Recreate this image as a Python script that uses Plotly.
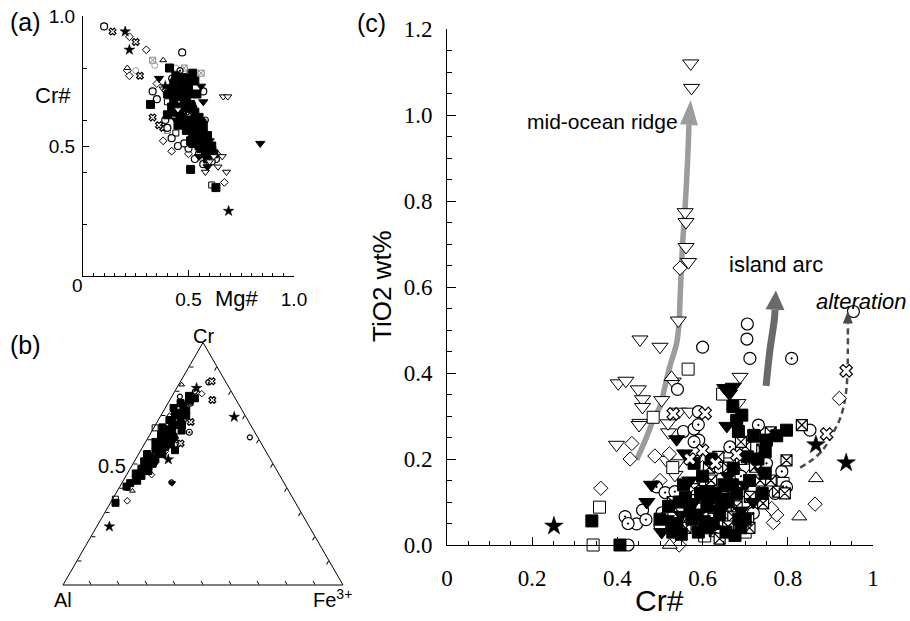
import math
import plotly.graph_objects as go

W, H = 910, 621

# ---------------- panel (a): Mg# vs Cr# ----------------
A_FILLED_SQUARE = [(0.41,0.80),(0.44,0.77),(0.52,0.78),(0.53,0.75),(0.43,0.74),(0.47,0.72),(0.40,0.70),(0.45,0.69),
                   (0.50,0.70),(0.48,0.66),(0.42,0.65),(0.52,0.64),(0.46,0.62),(0.50,0.60),(0.55,0.61),(0.53,0.57),
                   (0.49,0.56),(0.57,0.55),(0.54,0.53),(0.58,0.51),(0.56,0.49),(0.60,0.48),(0.62,0.47),(0.59,0.45),
                   (0.32,0.66),(0.40,0.62),(0.51,0.41),(0.63,0.34),(0.45,0.58),(0.51,0.52),(0.47,0.75),(0.44,0.71),
                   (0.49,0.68),(0.46,0.65),(0.51,0.66),(0.47,0.61),(0.53,0.63),(0.50,0.57),(0.55,0.56),(0.52,0.51),
                   (0.57,0.58),(0.59,0.54),(0.61,0.50),(0.42,0.72),(0.49,0.76),(0.54,0.70),(0.44,0.63),(0.56,0.59),
                   (0.54,0.58),(0.56,0.53),(0.52,0.55),(0.48,0.59),(0.43,0.68),(0.58,0.47),(0.55,0.50),(0.50,0.73),
                   (0.45,0.76),(0.57,0.52),(0.53,0.60),(0.48,0.70)]
A_FILLED_TRI = [(0.36,0.76),(0.56,0.73),(0.57,0.67),(0.59,0.42),(0.84,0.51),(0.47,0.68),(0.52,0.58),(0.60,0.52),
                (0.44,0.60),(0.55,0.46),(0.49,0.64),(0.58,0.49)]
A_OPEN_CIRCLE = [(0.10,0.96),(0.47,0.86),(0.33,0.71),(0.57,0.71),(0.63,0.45),(0.57,0.43),(0.40,0.57),(0.42,0.53),
                 (0.45,0.50),(0.50,0.49),(0.39,0.60),(0.61,0.44),(0.35,0.68),(0.48,0.51),(0.55,0.47),(0.53,0.45)]
A_GRAY_CIRCLE = [(0.34,0.81),(0.25,0.79),(0.62,0.49),(0.57,0.44),(0.44,0.80)]
A_OPEN_DIAMOND = [(0.22,0.92),(0.30,0.87),(0.21,0.79),(0.22,0.77),(0.67,0.36),(0.42,0.48),(0.50,0.47),(0.38,0.52),(0.35,0.74)]
A_OPEN_TRI_DOWN = [(0.665,0.69),(0.686,0.69),(0.68,0.40),(0.62,0.46),(0.66,0.46),(0.58,0.40),(0.64,0.42),(0.60,0.44),
                   (0.45,0.64),(0.38,0.72)]
A_OPEN_TRI_UP = [(0.38,0.83),(0.21,0.80),(0.64,0.47)]
A_STAR = [(0.20,0.94),(0.22,0.87),(0.69,0.25),(0.39,0.73)]
A_CROSS = [(0.14,0.94),(0.25,0.90),(0.27,0.77),(0.33,0.61),(0.38,0.57),(0.36,0.58)]
A_GRAY_BOXED = [(0.33,0.83),(0.56,0.78),(0.48,0.80),(0.50,0.74),(0.40,0.56)]
A_OPEN_SQUARE = [(0.61,0.35),(0.40,0.67),(0.48,0.79),(0.44,0.55)]
A_CIRCLE_DOT = [(0.46,0.79),(0.42,0.76),(0.52,0.66),(0.55,0.55),(0.49,0.63),(0.58,0.60)]

# ---------------- panel (b): ternary Cr - Al - Fe3+  (Cr, Fe3+) fractions ----------------
B_FILLED_SQUARE = [(0.637,0.105),(0.556,0.122),(0.339,0.018),(0.406,0.024),(0.770,0.086),(0.740,0.060),(0.700,0.050),
                   (0.660,0.070),(0.620,0.040),(0.580,0.060),(0.540,0.030),(0.500,0.050),(0.460,0.030),(0.720,0.080),
                   (0.640,0.060),(0.600,0.070),(0.560,0.050),(0.520,0.070),(0.480,0.040),(0.440,0.040),(0.680,0.040),
                   (0.730,0.030),(0.690,0.075),(0.610,0.090),(0.570,0.080),(0.530,0.045),(0.490,0.060),(0.650,0.030),
                   (0.750,0.045),(0.590,0.035),(0.470,0.070),(0.420,0.030),(0.710,0.065),(0.670,0.055),(0.630,0.075),
                   (0.550,0.065),(0.510,0.035),(0.450,0.055),(0.760,0.070),(0.600,0.050),(0.700,0.090),(0.660,0.095),
                   (0.620,0.060),(0.580,0.095),(0.540,0.085),(0.500,0.070),(0.430,0.050),(0.780,0.060)]
B_FILLED_TRI = [(0.466,0.052),(0.420,0.180),(0.500,0.080),(0.570,0.090),(0.650,0.050)]
B_OPEN_TRI_UP = [(0.826,0.011),(0.388,0.054),(0.700,0.030)]
B_STAR = [(0.812,0.071),(0.693,0.265),(0.518,0.117),(0.241,0.045)]
B_OPEN_CIRCLE = [(0.798,0.072),(0.836,0.101),(0.609,0.363),(0.777,0.029),(0.423,0.176),(0.450,0.035),(0.400,0.030)]
B_OPEN_DIAMOND = [(0.789,0.101),(0.455,0.089),(0.347,0.056),(0.550,0.090)]
B_CROSS = [(0.840,0.111),(0.763,0.152),(0.672,0.120),(0.584,0.128),(0.600,0.100)]
B_CIRCLE_DOT = [(0.630,0.136),(0.750,0.080),(0.680,0.090)]
B_OPEN_SQUARE = [(0.354,0.010),(0.648,0.005)]

# ---------------- panel (c): Cr# vs TiO2 wt% ----------------
C_OPEN_TRI_DOWN = [(0.572,1.12),(0.574,1.063),(0.559,0.774),(0.561,0.751),(0.561,0.693),(0.567,0.658),(0.543,0.522),
                   (0.453,0.478),(0.500,0.461),(0.402,0.376),(0.420,0.382),(0.449,0.362),(0.459,0.339),(0.459,0.321),
                   (0.453,0.284),(0.504,0.337),(0.398,0.233),(0.531,0.380),(0.688,0.391),(0.545,0.310),(0.569,0.310),
                   (0.520,0.262),(0.514,0.198),(0.535,0.163),(0.540,0.190),(0.683,0.330),(0.519,0.283),(0.451,0.279),
                   (0.580,0.200),(0.620,0.160),(0.700,0.180),(0.660,0.070)]
C_FILLED_TRI_DOWN = [(0.652,0.365),(0.672,0.368),(0.663,0.352),(0.657,0.277),(0.539,0.246),(0.558,0.213),(0.480,0.140),
                     (0.469,0.100),(0.504,0.030),(0.648,0.113),(0.719,0.100),(0.600,0.060),(0.620,0.040),(0.580,0.100),
                     (0.550,0.070),(0.660,0.160),(0.700,0.140),(0.740,0.170),(0.530,0.045),(0.690,0.080),(0.610,0.130),
                     (0.570,0.150),(0.515,0.060),(0.590,0.075),(0.635,0.085)]
C_FILLED_SQUARE = [(0.671,0.322),(0.692,0.302),(0.684,0.264),(0.680,0.290),(0.797,0.267),(0.672,0.178),(0.676,0.022),
                   (0.340,0.056),(0.406,0.000),(0.747,0.217),(0.750,0.244),(0.747,0.167),(0.555,0.140),(0.774,0.254),
                   (0.600,0.160),(0.630,0.120),(0.520,0.090),(0.540,0.050),(0.570,0.080),(0.590,0.030),(0.610,0.090),
                   (0.640,0.070),(0.660,0.100),(0.680,0.120),(0.710,0.150),(0.730,0.200),(0.740,0.120),(0.620,0.200),
                   (0.560,0.110),(0.500,0.060),(0.650,0.140),(0.700,0.060),(0.720,0.255),(0.690,0.040),(0.580,0.190),
                   (0.530,0.030),(0.625,0.050),(0.705,0.205),(0.595,0.120),(0.655,0.030),(0.575,0.060),(0.605,0.040),
                   (0.645,0.095),(0.670,0.140),(0.550,0.025),(0.615,0.110),(0.685,0.060),(0.545,0.100)]
C_BOXED_X = [(0.833,0.279),(0.797,0.197),(0.637,0.205),(0.723,0.252),(0.760,0.262),(0.629,0.032),(0.633,0.096),
             (0.777,0.124),(0.793,0.120),(0.707,0.062),(0.723,0.182),(0.649,0.112),(0.672,0.066),(0.660,0.043),
             (0.711,0.112),(0.742,0.097),(0.700,0.230),(0.740,0.222),(0.620,0.150),(0.660,0.180),(0.690,0.200),
             (0.580,0.130),(0.600,0.070),(0.560,0.040),(0.640,0.015),(0.680,0.090),(0.760,0.150),(0.710,0.040),
             (0.600,0.110),(0.530,0.100),(0.690,0.240),(0.735,0.150),(0.615,0.180)]
C_CIRCLE_DOT = [(0.809,0.434),(0.591,0.244),(0.418,0.066),(0.425,0.050),(0.467,0.059),(0.492,0.135),(0.512,0.122),
                (0.535,0.124),(0.561,0.122),(0.786,0.171),(0.797,0.135),(0.731,0.279),(0.664,0.228),(0.719,0.074),
                (0.580,0.240),(0.550,0.090),(0.620,0.100),(0.690,0.160),(0.650,0.050),(0.750,0.190),(0.570,0.050),
                (0.700,0.100),(0.505,0.075),(0.590,0.280),(0.640,0.180)]
C_OPEN_CIRCLE = [(0.705,0.514),(0.704,0.479),(0.711,0.434),(0.600,0.460),(0.541,0.362),(0.954,0.543),(0.852,0.267),
                 (0.555,0.264),(0.459,0.081),(0.445,0.049),(0.758,0.140),(0.580,0.270),(0.530,0.120),(0.620,0.060),
                 (0.500,0.045),(0.720,0.130),(0.770,0.120),(0.425,0.000),(0.590,0.310)]
C_OPEN_DIAMOND = [(0.547,0.644),(0.434,0.236),(0.430,0.200),(0.361,0.132),(0.488,0.207),(0.522,0.212),(0.921,0.341),
                  (0.864,0.095),(0.766,0.052),(0.774,0.070),(0.762,0.085),(0.545,0.000),(0.500,0.150),(0.600,0.180),
                  (0.690,0.050)]
C_OPEN_SQUARE = [(0.566,0.409),(0.484,0.297),(0.358,0.088),(0.343,0.000),(0.647,0.351),(0.605,0.021),(0.789,0.143),
                 (0.530,0.180),(0.700,0.030)]
C_OPEN_TRI_UP = [(0.866,0.155),(0.827,0.066),(0.523,0.000),(0.527,0.390),(0.600,0.140),(0.660,0.210)]
C_STAR = [(0.251,0.044),(0.866,0.233),(0.937,0.191)]
C_CROSS = [(0.937,0.405),(0.891,0.258),(0.531,0.305),(0.606,0.306),(0.570,0.200),(0.630,0.190),(0.600,0.220),(0.680,0.210)]

# trend arrows in panel (c)
RIDGE_X = [0.445,0.466,0.484,0.500,0.512,0.523,0.539,0.545,0.547,0.553,0.559,0.565,0.568]
RIDGE_Y = [0.198,0.245,0.290,0.322,0.370,0.415,0.469,0.520,0.570,0.700,0.786,0.900,0.977]
RIDGE_TIP = (0.572, 1.035)
ARC_X = [0.749,0.758,0.765,0.769,0.770]
ARC_Y = [0.370,0.453,0.500,0.530,0.547]
ARC_TIP = (0.772, 0.592)
ALT_X = [0.829,0.860,0.885,0.906,0.925,0.936,0.940,0.941]
ALT_Y = [0.180,0.200,0.225,0.260,0.300,0.350,0.400,0.515]
ALT_TIP = (0.941, 0.545)

C_XTICKS = [0, 0.2, 0.4, 0.6, 0.8, 1.0]
C_XTICKTEXT = ["0", "0.2", "0.4", "0.6", "0.8", "1"]
C_YTICKS = [0, 0.2, 0.4, 0.6, 0.8, 1.0, 1.2]
C_YTICKTEXT = ["0.0", "0.2", "0.4", "0.6", "0.8", "1.0", "1.2"]

# ---------------- geometry (pixels) ----------------
A_X0, A_X1, A_Y0, A_Y1 = 83, 294, 276, 16
C_X0, C_X1, C_Y0, C_Y1 = 447, 873, 545, 29
C_XRANGE, C_YRANGE = (0, 1.0), (0, 1.2)
T_LEFT, T_RIGHT, T_BASE = 63, 343, 585


def fx(p):
    return p / W


def fy(p):
    return 1 - p / H


SANS = "Liberation Sans, Arial, sans-serif"
SERIF = "Liberation Serif, Times New Roman, serif"

STYLES = {
    "filled_square": dict(symbol="square", color="black", line=dict(color="black", width=1)),
    "filled_tri": dict(symbol="triangle-down", color="black", line=dict(color="black", width=1)),
    "open_tri_down": dict(symbol="triangle-down", color="white", line=dict(color="black", width=1)),
    "open_tri_up": dict(symbol="triangle-up", color="white", line=dict(color="black", width=1)),
    "open_circle": dict(symbol="circle", color="white", line=dict(color="black", width=1.2)),
    "gray_circle": dict(symbol="circle", color="white", line=dict(color="#999999", width=1)),
    "open_diamond": dict(symbol="diamond", color="white", line=dict(color="black", width=1)),
    "open_square": dict(symbol="square", color="white", line=dict(color="black", width=1)),
    "star": dict(symbol="star", color="black", line=dict(color="black", width=0.5)),
    "cross": dict(symbol="x", color="white", line=dict(color="black", width=1.2)),
    "boxed_x": dict(symbol="square-x", color="white", line=dict(color="black", width=1.2)),
    "gray_boxed": dict(symbol="square-x", color="white", line=dict(color="#888888", width=1)),
    "circle_dot": dict(symbol="circle-dot", color="white", line=dict(color="black", width=1.2)),
}

fig = go.Figure()


def add_xy(points, style, size, xa, ya):
    st = dict(STYLES[style])
    fig.add_trace(go.Scatter(
        x=[p[0] for p in points], y=[p[1] for p in points], mode="markers",
        xaxis=xa, yaxis=ya, cliponaxis=False, hoverinfo="skip",
        marker=dict(size=size, **st)))


def add_tern(points, style, size):
    st = dict(STYLES[style])
    fig.add_trace(go.Scatterternary(
        a=[p[0] for p in points], c=[p[1] for p in points],
        b=[1 - p[0] - p[1] for p in points], mode="markers",
        subplot="ternary", cliponaxis=False, hoverinfo="skip",
        marker=dict(size=size, **st)))


# panel (a)
for pts, sty, sz in [(A_OPEN_DIAMOND, "open_diamond", 6), (A_GRAY_CIRCLE, "gray_circle", 6),
                     (A_OPEN_TRI_UP, "open_tri_up", 6), (A_OPEN_SQUARE, "open_square", 6),
                     (A_GRAY_BOXED, "gray_boxed", 6), (A_CROSS, "cross", 6),
                     (A_OPEN_CIRCLE, "open_circle", 7), (A_CIRCLE_DOT, "circle_dot", 6),
                     (A_FILLED_SQUARE, "filled_square", 8), (A_FILLED_TRI, "filled_tri", 8),
                     (A_OPEN_TRI_DOWN, "open_tri_down", 7), (A_STAR, "star", 8)]:
    add_xy(pts, sty, sz, "x", "y")

# panel (b)
for pts, sty, sz in [(B_OPEN_DIAMOND, "open_diamond", 5), (B_OPEN_TRI_UP, "open_tri_up", 5),
                     (B_OPEN_SQUARE, "open_square", 6), (B_OPEN_CIRCLE, "open_circle", 5),
                     (B_CIRCLE_DOT, "circle_dot", 6), (B_CROSS, "cross", 6),
                     (B_FILLED_SQUARE, "filled_square", 7), (B_FILLED_TRI, "filled_tri", 6),
                     (B_STAR, "star", 8)]:
    add_tern(pts, sty, sz)

# panel (c) trend lines
fig.add_trace(go.Scatter(x=RIDGE_X, y=RIDGE_Y, mode="lines", xaxis="x2", yaxis="y2", hoverinfo="skip",
                         line=dict(color="#9c9c9c", width=5.5, shape="spline")))
fig.add_trace(go.Scatter(x=ARC_X, y=ARC_Y, mode="lines", xaxis="x2", yaxis="y2", hoverinfo="skip",
                         line=dict(color="#6a6a6a", width=7, shape="spline")))
fig.add_trace(go.Scatter(x=ALT_X, y=ALT_Y, mode="lines", xaxis="x2", yaxis="y2", hoverinfo="skip",
                         line=dict(color="#4a4a4a", width=2.5, dash="6px,4px", shape="spline")))

for pts, sty, sz in [(C_OPEN_TRI_DOWN, "open_tri_down", 14), (C_OPEN_DIAMOND, "open_diamond", 11),
                     (C_OPEN_SQUARE, "open_square", 12), (C_OPEN_TRI_UP, "open_tri_up", 13),
                     (C_OPEN_CIRCLE, "open_circle", 12), (C_CIRCLE_DOT, "circle_dot", 12),
                     (C_BOXED_X, "boxed_x", 11), (C_FILLED_SQUARE, "filled_square", 12),
                     (C_FILLED_TRI_DOWN, "filled_tri", 14), (C_CROSS, "cross", 11), (C_STAR, "star", 14)]:
    add_xy(pts, sty, sz, "x2", "y2")

# arrow heads (triangles built from the trend-line end and tip, using the axis scale)
XS = (C_X1 - C_X0) / (C_XRANGE[1] - C_XRANGE[0])
YS = (C_Y0 - C_Y1) / (C_YRANGE[1] - C_YRANGE[0])


def head(base, tip, half_px):
    bx, by = base
    tx, ty = tip
    dx, dy = (tx - bx) * XS, (ty - by) * YS
    L = math.hypot(dx, dy)
    nx, ny = -dy / L, dx / L
    p1 = (bx + nx * half_px / XS, by + ny * half_px / YS)
    p2 = (bx - nx * half_px / XS, by - ny * half_px / YS)
    return f"M {tx},{ty} L {p1[0]},{p1[1]} L {p2[0]},{p2[1]} Z"


shapes = []
for xs, ys, tip, hw, col in [(RIDGE_X, RIDGE_Y, RIDGE_TIP, 9, "#9c9c9c"),
                             (ARC_X, ARC_Y, ARC_TIP, 9.5, "#6a6a6a"),
                             (ALT_X, ALT_Y, ALT_TIP, 5, "#4a4a4a")]:
    shapes.append(dict(type="path", xref="x2", yref="y2", path=head((xs[-1], ys[-1]), tip, hw),
                       fillcolor=col, line=dict(width=0)))

axis_common = dict(showgrid=False, zeroline=False, showline=True, linecolor="black", linewidth=1,
                   ticks="inside", tickcolor="black", tickwidth=1, automargin=False)

tern_axis = dict(title=dict(text=""), showgrid=False, showticklabels=False, ticks="inside", ticklen=4,
                 tickcolor="black", dtick=0.1, linecolor="black", linewidth=1, min=0)

tri_h = (T_RIGHT - T_LEFT) * math.sqrt(3) / 2


def ann(text, x, y, size, family=SANS, angle=0, italic=False):
    t = f"<i>{text}</i>" if italic else text
    return dict(text=t, x=fx(x), y=fy(y), xref="paper", yref="paper", showarrow=False,
                xanchor="center", yanchor="middle", textangle=angle,
                font=dict(family=family, size=size, color="black"))


annotations = [
    ann("(a)", 25, 22, 25), ann("(b)", 25, 345, 25), ann("(c)", 371, 23, 25),
    ann("Cr#", 53, 95, 22), ann("0", 77, 285, 19), ann("Mg#", 237, 298, 22),
    ann("Cr", 203, 336, 20), ann("Al", 63, 600, 20), ann("Fe<sup>3+</sup>", 332, 598, 20),
    ann("0.5", 112, 466, 20),
    ann("TiO2 wt%", 382, 286, 26, angle=-90), ann("Cr#", 659, 600, 30),
    ann("mid-ocean ridge", 602, 122, 21), ann("island arc", 776, 264, 22),
    ann("alteration", 861, 302, 22, italic=True),
]

fig.update_layout(
    template="none",
    width=W, height=H, margin=dict(l=0, r=0, t=0, b=0, autoexpand=False),
    paper_bgcolor="white", plot_bgcolor="white", showlegend=False,
    xaxis=dict(domain=[fx(A_X0), fx(A_X1)], range=[0, 1], anchor="y", ticklen=6,
               tickvals=[0.5, 1.0], ticktext=["0.5", "1.0"], ticklabelstandoff=6,
               tickfont=dict(family=SANS, size=19, color="black"),
               minor=dict(ticks="inside", ticklen=3, dtick=0.05, tick0=0, tickcolor="black"), **axis_common),
    yaxis=dict(domain=[fy(A_Y0), fy(A_Y1)], range=[0, 1], anchor="x", ticklen=6,
               tickvals=[0.5, 1.0], ticktext=["0.5", "1.0"], ticklabelstandoff=3,
               tickfont=dict(family=SANS, size=19, color="black"),
               minor=dict(ticks="inside", ticklen=4, tickvals=[0.2, 0.4, 0.6, 0.8], tickcolor="black"),
               **axis_common),
    xaxis2=dict(domain=[fx(C_X0), fx(C_X1)], range=list(C_XRANGE), anchor="y2", ticklen=8,
                tickvals=C_XTICKS, ticktext=C_XTICKTEXT, ticklabelstandoff=12,
                tickfont=dict(family=SERIF, size=23, color="black"),
                minor=dict(ticks="inside", ticklen=4, dtick=0.05, tick0=0, tickcolor="black"), **axis_common),
    yaxis2=dict(domain=[fy(C_Y0), fy(C_Y1)], range=list(C_YRANGE), anchor="x2", ticklen=9,
                tickvals=C_YTICKS, ticktext=C_YTICKTEXT, ticklabelstandoff=9,
                tickfont=dict(family=SERIF, size=23, color="black"),
                minor=dict(ticks="inside", ticklen=5, dtick=0.05, tick0=0, tickcolor="black"), **axis_common),
    ternary=dict(domain=dict(x=[fx(T_LEFT), fx(T_RIGHT)], y=[fy(T_BASE), fy(T_BASE - tri_h)]),
                 bgcolor="white", sum=1, aaxis=tern_axis, baxis=tern_axis, caxis=tern_axis),
    shapes=shapes, annotations=annotations,
)

fig.write_html("out.html")
